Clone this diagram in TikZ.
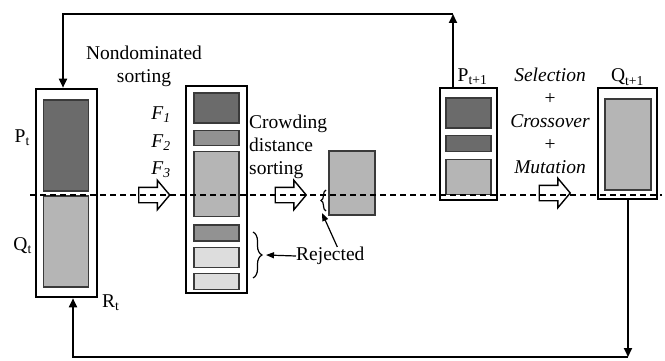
\documentclass[tikz,border=0pt]{standalone}
\usepackage{fontspec}
\setmainfont{Liberation Serif}
\usetikzlibrary{positioning,arrows.meta,shapes.arrows,decorations.pathreplacing}
\definecolor{fdark}{HTML}{6B6B6B}
\definecolor{fmid}{HTML}{929292}
\definecolor{flight}{HTML}{B5B5B5}
\definecolor{fpale}{HTML}{DDDDDD}
\definecolor{edge}{HTML}{3A3A3A}
\tikzset{
  popbox/.style={rectangle, draw=black, line width=2.6pt, inner sep=0pt},
  thinbox/.style={rectangle, draw=black, line width=1.2pt, inner sep=0pt},
  member/.style={rectangle, draw=edge, line width=1.3pt, inner sep=0pt,
                 minimum width=45pt},
  fatarrow/.style={single arrow, draw=black, fill=white, line width=1.4pt,
                   inner xsep=0pt, inner ysep=7pt, minimum height=31pt,
                   single arrow head extend=7pt, single arrow tip angle=100},
  feedback/.style={line width=1.8pt, -{Triangle[length=9pt,width=8pt]}},
  flow/.style={line width=1.2pt, -{Triangle[length=8pt,width=6pt]}},
  lbl/.style={font=\fontsize{19.5}{23}\selectfont, inner sep=0pt},
  bracecut/.style={decorate, decoration={brace, amplitude=#1}, line width=1.2pt},
  dashline/.style={dash pattern=on 6pt off 4pt, line width=1.6pt}
}
\begin{document}
\begin{tikzpicture}[x=1pt,y=-1pt]
\useasboundingbox (0,0) rectangle (665,361);
% R_t = P_t + Q_t
\node[popbox, minimum width=61pt, minimum height=208pt] (rt) at (66.5,193) {};
\node[member, minimum height=91pt, fill=fdark] (pt) at (66,145.5) {};
\node[member, minimum height=91pt, fill=flight] (qt) at (66,241.5) {};
\node[lbl, anchor=east] (ptl) at (30,138) {P\textsubscript{t}};
\node[lbl, anchor=east] (qtl) at (32,246) {Q\textsubscript{t}};
\node[lbl, anchor=west] (rtl) at (102,303) {R\textsubscript{t}};
% nondominated sorting into fronts
\node[lbl, align=center] (nds) at (144,66) {Nondominated\\sorting};
\node[lbl] (f1l) at (161,115) {\textit{F\textsubscript{1}}};
\node[lbl] (f2l) at (161,143) {\textit{F\textsubscript{2}}};
\node[lbl] (f3l) at (161,170) {\textit{F\textsubscript{3}}};
\node[fatarrow] (a1) at (151,195) {};
\node[popbox, minimum width=61pt, minimum height=207pt] (fb) at (216.5,189.5) {};
\node[member, minimum height=30pt, fill=fdark] (f1) at (216.5,108) {};
\node[member, minimum height=15pt, fill=fmid, below=6pt of f1] (f2) {};
\node[member, minimum height=65pt, fill=flight, below=5pt of f2] (f3) {};
\node[member, minimum height=16pt, fill=fmid, below=7pt of f3] (f4) {};
\node[member, minimum height=20pt, fill=fpale, below=5pt of f4] (f5) {};
\node[member, minimum height=16pt, fill=fpale, below=5pt of f5] (f6) {};
% crowding distance
\node[lbl, align=left, anchor=west] (cds) at (249,147) {Crowding\\distance\\sorting};
\node[fatarrow] (a2) at (287.5,195) {};
\node[member, minimum width=46pt, minimum height=64pt, fill=flight] (sel) at (352,183) {};
\coordinate (rb1) at (253,232);
\coordinate (rb2) at (253,278);
\coordinate (rtip1) at (266,255);
\coordinate (sb1) at (326,211);
\coordinate (sb2) at (326,190);
\coordinate (rtip2) at (322,213);
\draw[bracecut=9pt] (rb1) -- (rb2);
\draw[bracecut=5pt] (sb1) -- (sb2);
\node[lbl, anchor=west] (rej) at (296,256) {Rejected};
\draw[flow] (rej.west) -- (rtip1);
\draw[flow] ([xshift=7pt]rej.north) -- (rtip2);
% new parents
\node[popbox, minimum width=57pt, minimum height=112pt] (pn) at (468.5,144) {};
\node[member, minimum height=30pt, fill=fdark] (pn1) at (468.5,113) {};
\node[member, minimum height=16pt, fill=fdark, below=6pt of pn1] (pn2) {};
\node[member, minimum height=35pt, fill=flight, below=7pt of pn2] (pn3) {};
\node[lbl, above=2pt of pn, xshift=4pt] (pnl) {P\textsubscript{t+1}};
% offspring
\node[lbl, align=center] (gen) at (550,121)
  {\textit{Selection}\\+\\\textit{Crossover}\\+\\\textit{Mutation}};
\node[fatarrow] (a3) at (551.5,193) {};
\node[thinbox, minimum width=59pt, minimum height=111pt] (qn) at (627.5,143.5) {};
\node[member, minimum width=46pt, minimum height=91pt, fill=flight] (qn1) at (628,144.5) {};
\node[lbl, above=2pt of qn] (qnl) {Q\textsubscript{t+1}};
% feedback loops
\coordinate (tr) at (453,14);
\coordinate (tl) at (63,14);
\coordinate (br) at (628,357);
\coordinate (bl) at (73,357);
\draw[feedback] (pn.north -| tr) -- (tr);
\draw[feedback] (tr) -- (tl) -- (tl |- rt.north);
\draw[feedback] (qn.south -| br) -- (br);
\draw[feedback] (br) -- (bl) -- (bl |- rt.south);
% cut line
\coordinate (dl) at (30,195);
\coordinate (dr) at (662,195);
\draw[dashline] (dl) -- (dr);
\end{tikzpicture}
\end{document}
